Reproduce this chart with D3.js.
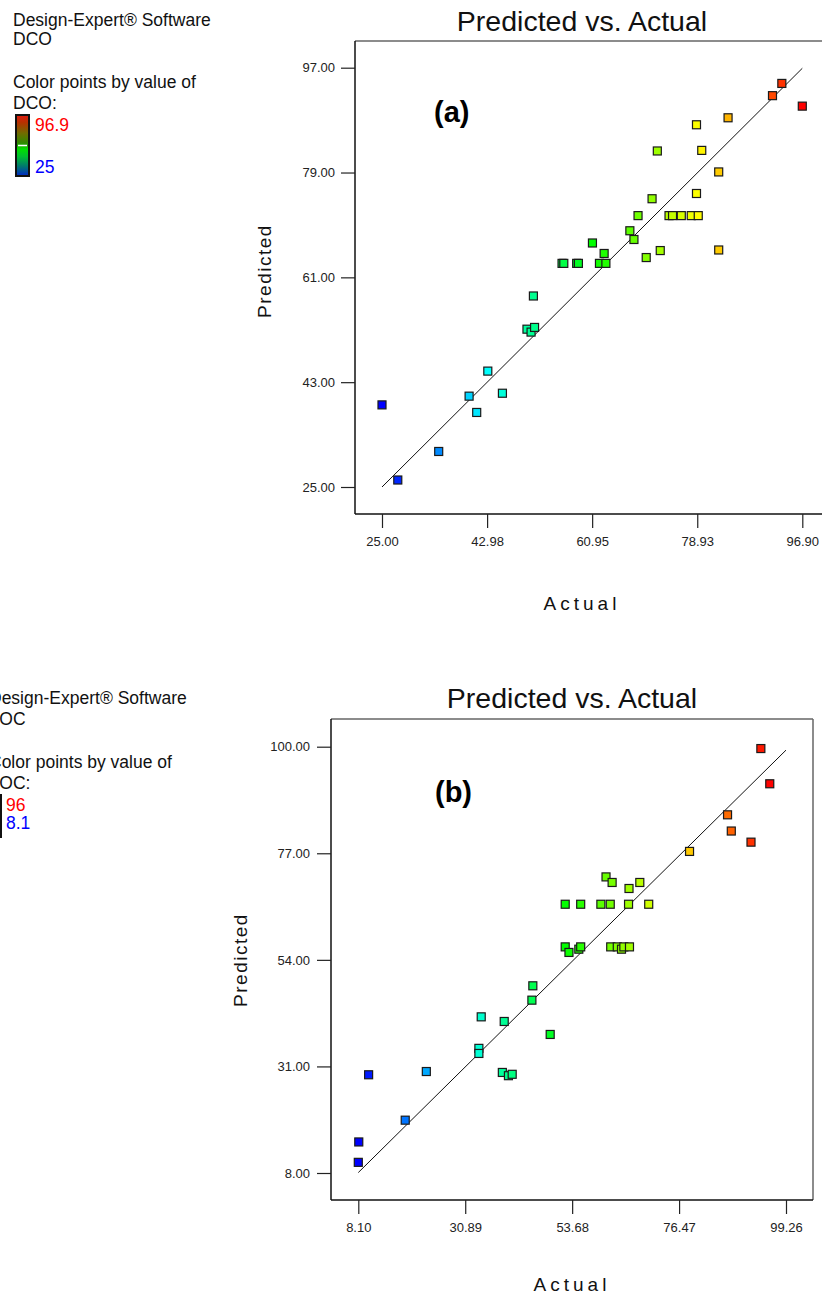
<!DOCTYPE html>
<html>
<head>
<meta charset="utf-8">
<script src="https://cdn.jsdelivr.net/npm/d3@7"></script>
<style>
  html, body { margin: 0; padding: 0; background: #fff; }
  svg { display: block; }
  text { font-family: "Liberation Sans", Arial, sans-serif; }
</style>
</head>
<body>
<svg id="chart" width="822" height="1303"></svg>
<script>
// ---------------- DATA ----------------
// Panel (a): DCO
const dcoActual = [93.4, 91.8, 96.9, 84.2, 78.8, 72.1, 79.7, 82.6, 71.2, 78.8,
  68.8, 74.1, 74.7, 76.2, 77.9, 79.1, 67.4, 68.1, 61.0, 63.0,
  70.2, 72.6, 82.6, 55.8, 56.1, 58.3, 58.6, 62.2, 63.3, 50.9,
  49.8, 50.5, 51.1, 43.1, 39.9, 45.6, 41.2, 25.0, 34.7, 27.7];
const dcoPredicted = [94.3, 92.2, 90.4, 88.4, 87.2, 82.7, 82.8, 79.1, 74.5, 75.4,
  71.6, 71.6, 71.6, 71.6, 71.6, 71.6, 69.0, 67.5, 66.9, 65.1,
  64.4, 65.6, 65.7, 63.4, 63.4, 63.4, 63.4, 63.4, 63.4, 57.8,
  52.1, 51.6, 52.4, 44.9, 40.6, 41.1, 37.8, 39.1, 31.1, 26.2];
const dcoXTicks = [25.00, 42.98, 60.95, 78.93, 96.90];
const dcoYTicks = [25.00, 43.00, 61.00, 79.00, 97.00];
const dcoRange = [25, 96.9];

// Panel (b): TOC
const tocActual = [93.9, 95.8, 86.8, 87.6, 91.8, 78.7, 60.9, 62.2, 68.1, 65.8,
  52.2, 55.5, 59.8, 61.8, 65.7, 70.0, 52.2, 53.0, 55.1, 55.5,
  61.9, 63.3, 64.2, 64.7, 65.9, 45.3, 45.1, 34.3, 39.2, 49.0,
  33.8, 33.8, 38.8, 40.1, 40.9, 10.3, 22.6, 18.1, 8.2, 8.1];
const tocPredicted = [99.6, 92.0, 85.3, 81.8, 79.4, 77.4, 71.9, 70.7, 70.7, 69.4,
  66.0, 66.0, 66.0, 66.0, 66.0, 66.0, 56.8, 55.6, 56.3, 56.8,
  56.8, 56.8, 56.3, 56.8, 56.8, 48.4, 45.3, 41.7, 40.7, 37.9,
  34.9, 33.8, 29.7, 29.0, 29.3, 29.2, 29.9, 19.4, 14.7, 10.3];
const tocXTicks = [8.10, 30.89, 53.68, 76.47, 99.26];
const tocYTicks = [8.00, 31.00, 54.00, 77.00, 100.00];
const tocRange = [8.1, 96];

const titleText = "Predicted vs. Actual";
const xLabel = "Actual";
const yLabel = "Predicted";

// ---------------- DRAW ----------------
const svg = d3.select("#chart");

function panel(cfg) {
  const g = svg.append("g");
  const x = d3.scaleLinear().domain(cfg.xDom).range(cfg.xPx);
  const y = d3.scaleLinear().domain(cfg.yDom).range(cfg.yPx);
  const color = d3.scaleLinear().domain(cfg.colorRange).range([240, 0]).clamp(true);
  const col = v => d3.hsl(color(v), 1, 0.5).toString();

  // Legend text
  const lg = g.append("g").attr("font-size", "17.5px").attr("fill", "#111");
  cfg.legendLines.forEach((t, i) => {
    lg.append("text").attr("x", cfg.legX).attr("y", cfg.legY[i]).text(t);
  });
  // colour bar
  const gradId = "grad" + cfg.id;
  const grad = svg.append("defs").append("linearGradient")
    .attr("id", gradId).attr("x1", 0).attr("y1", 0).attr("x2", 0).attr("y2", 1);
  [[0, "#e01a10"], [0.12, "#b83000"], [0.3, "#706c00"], [0.46, "#2e8a00"],
   [0.56, "#00e000"], [0.68, "#00c030"], [0.84, "#00786e"], [1, "#0026c8"]]
    .forEach(s => grad.append("stop").attr("offset", s[0]).attr("stop-color", s[1]));
  g.append("rect").attr("x", cfg.bar[0]).attr("y", cfg.bar[1])
    .attr("width", cfg.bar[2]).attr("height", cfg.bar[3])
    .attr("fill", `url(#${gradId})`).attr("stroke", "#111").attr("stroke-width", 2);
  g.append("line").attr("x1", cfg.bar[0] + 2).attr("x2", cfg.bar[0] + cfg.bar[2] - 2)
    .attr("y1", cfg.bar[1] + cfg.bar[3] * 0.5).attr("y2", cfg.bar[1] + cfg.bar[3] * 0.5)
    .attr("stroke", "#fff").attr("stroke-width", 1.5);
  g.append("text").attr("x", cfg.hiLab[0]).attr("y", cfg.hiLab[1])
    .attr("font-size", "17.5px").attr("fill", "#ff0000").text(cfg.hiText);
  g.append("text").attr("x", cfg.loLab[0]).attr("y", cfg.loLab[1])
    .attr("font-size", "17.5px").attr("fill", "#0000ff").text(cfg.loText);

  // Title
  g.append("text").attr("x", cfg.titlePos[0]).attr("y", cfg.titlePos[1])
    .attr("text-anchor", "middle").attr("font-size", "28.5px").attr("fill", "#111")
    .text(titleText);

  // Frame
  const f = cfg.frame; // [left, top, right, bottom]
  g.append("line").attr("x1", f[0]).attr("x2", f[2]).attr("y1", f[1]).attr("y2", f[1])
    .attr("stroke", "#666").attr("stroke-width", 1.5);
  g.append("line").attr("x1", f[2]).attr("x2", f[2]).attr("y1", f[1]).attr("y2", f[3])
    .attr("stroke", "#666").attr("stroke-width", 1.5);
  g.append("line").attr("x1", f[0]).attr("x2", f[0]).attr("y1", f[1]).attr("y2", f[3])
    .attr("stroke", "#111").attr("stroke-width", 1.5);
  g.append("line").attr("x1", f[0]).attr("x2", f[2]).attr("y1", f[3]).attr("y2", f[3])
    .attr("stroke", "#111").attr("stroke-width", 1.5);

  // Axes
  const yAxis = d3.axisLeft(y).tickValues(cfg.yTicks).tickFormat(d3.format(".2f"))
    .tickSize(14).tickPadding(cfg.yPad);
  const ya = g.append("g").attr("transform", `translate(${f[0]},0)`).call(yAxis);
  const xAxis = d3.axisBottom(x).tickValues(cfg.xTicks).tickFormat(d3.format(".2f"))
    .tickSize(14).tickPadding(9);
  const xa = g.append("g").attr("transform", `translate(0,${f[3]})`).call(xAxis);
  [ya, xa].forEach(a => {
    a.select(".domain").remove();
    a.selectAll(".tick line").attr("stroke", "#222").attr("stroke-width", 1.2);
    a.selectAll(".tick text").attr("font-size", "13px").attr("fill", "#222")
      .attr("font-family", "'Liberation Sans', Arial, sans-serif");
  });

  // Axis labels
  g.append("text").attr("x", cfg.xLabPos[0]).attr("y", cfg.xLabPos[1])
    .attr("text-anchor", "middle").attr("font-size", "19px").attr("letter-spacing", "4px")
    .attr("fill", "#111").text(xLabel);
  g.append("text")
    .attr("transform", `translate(${cfg.yLabPos[0]},${cfg.yLabPos[1]}) rotate(-90)`)
    .attr("text-anchor", "middle").attr("font-size", "19px").attr("letter-spacing", "1.5px")
    .attr("fill", "#111").text(yLabel);

  // Panel tag
  g.append("text").attr("x", cfg.tagPos[0]).attr("y", cfg.tagPos[1])
    .attr("font-family", "'Liberation Serif', 'Times New Roman', serif")
    .attr("font-weight", "bold").attr("font-size", "29px").attr("fill", "#000")
    .text(cfg.tag);

  // 45-degree line
  g.append("line")
    .attr("x1", x(cfg.lineDom[0])).attr("y1", y(cfg.lineDom[0]))
    .attr("x2", x(cfg.lineDom[1])).attr("y2", y(cfg.lineDom[1]))
    .attr("stroke", "#111").attr("stroke-width", 1);

  // Points
  const pts = cfg.actual.map((a, i) => ({ a, p: cfg.predicted[i] }));
  const s = 8;
  g.append("g").selectAll("rect").data(pts).join("rect")
    .attr("x", d => x(d.a) - s / 2).attr("y", d => y(d.p) - s / 2)
    .attr("width", s).attr("height", s)
    .attr("fill", d => col(d.a))
    .attr("stroke", "#1a1a1a").attr("stroke-width", 1.2);
}

panel({
  id: "a", tag: "(a)",
  actual: dcoActual, predicted: dcoPredicted,
  xTicks: dcoXTicks, yTicks: dcoYTicks, colorRange: dcoRange,
  xDom: [25, 96.9], xPx: [382, 802.3],
  yDom: [25, 97], yPx: [487, 67.7],
  lineDom: [25, 96.9],
  frame: [355, 41, 829, 514],
  yPad: 6,
  titlePos: [582, 31],
  xLabPos: [582, 610],
  yLabPos: [271, 271],
  tagPos: [434, 122],
  legX: 13, legY: [26, 45, 88, 109],
  legendLines: ["Design-Expert\u00AE Software", "DCO", "Color points by value of", "DCO:"],
  bar: [16, 115, 13, 61],
  hiLab: [35, 131], hiText: "96.9",
  loLab: [35, 173], loText: "25"
});

panel({
  id: "b", tag: "(b)",
  actual: tocActual, predicted: tocPredicted,
  xTicks: tocXTicks, yTicks: tocYTicks, colorRange: tocRange,
  xDom: [8.1, 99.26], xPx: [358.3, 786],
  yDom: [8, 100], yPx: [1173, 746.7],
  lineDom: [8.1, 99.26],
  frame: [331, 719, 813, 1200],
  yPad: 7,
  titlePos: [572, 708],
  xLabPos: [572, 1291],
  yLabPos: [247, 960],
  tagPos: [435, 802],
  legX: -11, legY: [704, 725, 768, 789],
  legendLines: ["Design-Expert\u00AE Software", "TOC", "Color points by value of", "TOC:"],
  bar: [-13, 795, 14, 42],
  hiLab: [6, 811], hiText: "96",
  loLab: [6, 829], loText: "8.1"
});
</script>
</body>
</html>
